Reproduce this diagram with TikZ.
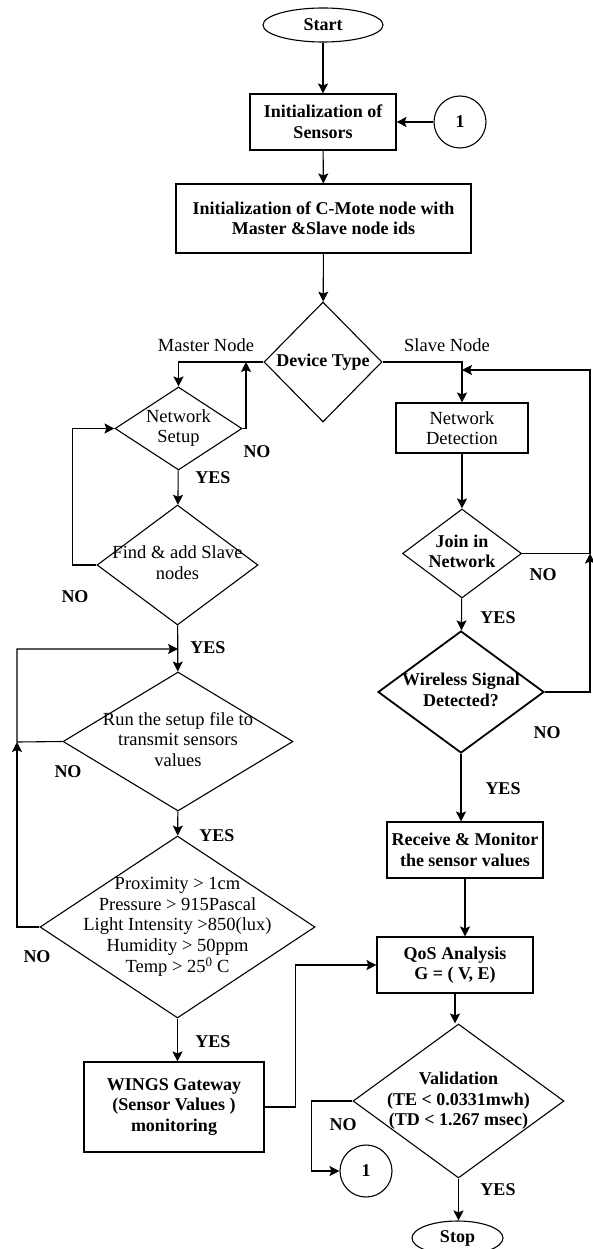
\documentclass[tikz,border=0pt]{standalone}
\usepackage{fontspec}
\setmainfont{Liberation Serif}
\usetikzlibrary{shapes.geometric,arrows.meta}
\newcommand\ctrtext[1]{\vbox to 0pt{\vss\hbox to 0pt{\hss\begin{tabular}{@{}c@{}}#1\end{tabular}\hss}\vss}}
\tikzset{
  bf/.style={font=\fontsize{18}{20.5}\selectfont\bfseries},
  rm/.style={font=\fontsize{18.5}{20.5}\selectfont},
  box/.style={draw, line width=1.1pt, rectangle, inner sep=0pt, align=center},
  dia/.style={draw, line width=1.1pt, diamond, inner sep=0pt},
  term/.style={draw, line width=1.1pt, ellipse, inner sep=0pt, bf},
  conn/.style={draw, line width=1.1pt, circle, inner sep=0pt, minimum size=52pt, bf},
  arr/.style={line width=1.1pt, -{Stealth[length=10pt,width=10pt,inset=2pt]}},
  ln/.style={line width=1.1pt},
  lab/.style={inner sep=0pt, bf},
  rlab/.style={inner sep=0pt, rm}
}
\begin{document}
\begin{tikzpicture}[x=1pt,y=-1pt]
\useasboundingbox (0,0) rectangle (592,1249);
\fill[white] (0,0) rectangle (592,1249);

% nodes
\node[term, minimum width=120pt, minimum height=34pt] (start) at (323,25) {Start};
\node[box, bf, minimum width=146pt, minimum height=56pt] (init) at (323,122) {Initialization of\\Sensors};
\node[conn] (c1) at (460,122) {1};
\node[box, bf, minimum width=295pt, minimum height=69pt] (cmote) at (323.5,218.5) {Initialization of C-Mote node with\\Master \&Slave node ids};
\node[dia, bf, minimum width=118pt, minimum height=120pt] (dev) at (323,362) {\ctrtext{Device Type}};

\node[dia, rm, minimum width=127pt, minimum height=83pt] (ns) at (178.5,428.5) {\ctrtext{Network\\Setup}};
\node[dia, rm, minimum width=161pt, minimum height=120pt] (fas) at (177.5,565) {\ctrtext{Find \& add Slave\\nodes}};
\node[dia, rm, minimum width=230pt, minimum height=139pt] (run) at (178,741.5) {\ctrtext{Run the setup file to\\transmit sensors\\values}};
\node[dia, rm, minimum width=275pt, minimum height=182pt] (prox) at (177.5,927) {\ctrtext{Proximity > 1cm\\Pressure > 915Pascal\\Light Intensity >850(lux)\\Humidity > 50ppm\\Temp > 25\textsuperscript{0} C}};
\node[box, bf, minimum width=180pt, minimum height=90pt] (wings) at (174,1107) {WINGS Gateway\\(Sensor Values )\\monitoring};

\node[box, rm, minimum width=132pt, minimum height=50pt] (nd) at (462,428) {Network\\Detection};
\node[dia, bf, minimum width=119pt, minimum height=89pt] (join) at (462,553.5) {\ctrtext{Join in\\Network}};
\node[dia, bf, line width=1.8pt, minimum width=166pt, minimum height=122pt] (wsd) at (461,692) {\ctrtext{Wireless Signal\\Detected?}};
\node[box, bf, minimum width=156pt, minimum height=56pt] (recv) at (465,850) {Receive \& Monitor\\the sensor values};
\node[box, bf, minimum width=156pt, minimum height=56pt] (qos) at (455,965) {QoS Analysis\\G = ( V, E)};
\node[dia, bf, minimum width=211pt, minimum height=154pt] (val) at (458.5,1101) {\ctrtext{Validation\\(TE < 0.0331mwh)\\(TD < 1.267 msec)}};
\node[conn] (c2) at (366,1171) {1};
\node[term, minimum width=91pt, minimum height=34pt] (stop) at (457.5,1238) {Stop};

% helper coordinates
\coordinate (m1) at (246,362);
\coordinate (k1) at (17,742);
\coordinate (j1) at (178,649);
\coordinate (r1) at (590,370);
\coordinate (r2) at (462,370);
\coordinate (r3) at (590,553.5);

% connectors
\draw[arr] (start) -- (init);
\draw[arr] (c1) -- (init);
\draw[arr] (init) -- (cmote);
\draw[arr] (cmote) -- (dev);
\draw[arr] (dev.west) -| (ns.north);
\draw[arr] (ns.east) -| (m1);
\draw[arr] (ns) -- (fas);
\draw[arr] (fas.west) -- ++(-24,0) |- (ns.west);
\draw[arr] (fas) -- (run);
\draw[arr] (run.west) -- (k1) |- (j1);
\draw[arr] (prox.west) -| (k1);
\draw[arr] (run) -- (prox);
\draw[arr] (prox.south) -- (prox.south |- wings.north);
\draw[arr] (wings.east) -- ++(31,0) |- (qos.west);

\draw[arr] (dev.east) -| (nd.north);
\draw[arr] (nd) -- (join);
\draw[arr] (join) -- (wsd);
\draw[arr] (join.east) -| (r1) -- (r2);
\draw[arr] (wsd.east) -| (r3);
\draw[arr] (wsd.south) -- (wsd.south |- recv.north);
\draw[arr] (recv.south) -- (recv.south |- qos.north);
\draw[arr] (qos.south) -- (qos.south |- val.north);
\draw[arr] (val.west) -- ++(-41,0) |- (c2.west);
\draw[arr] (val.south) -- (val.south |- stop.north);

% labels
\node[rlab] (lmaster) at (206,345) {Master Node};
\node[rlab] (lslave) at (447,345) {Slave Node};
\node[lab] (l1) at (257,452) {NO};
\node[lab] (l2) at (213,478) {YES};
\node[lab] (l3) at (75,597) {NO};
\node[lab] (l4) at (208,648) {YES};
\node[lab] (l5) at (68,772) {NO};
\node[lab] (l6) at (217,836) {YES};
\node[lab] (l7) at (37,957) {NO};
\node[lab] (l8) at (213,1042) {YES};
\node[lab] (l9) at (543,575) {NO};
\node[lab] (l10) at (498,618) {YES};
\node[lab] (l11) at (547,733) {NO};
\node[lab] (l12) at (503,789) {YES};
\node[lab] (l13) at (343,1125) {NO};
\node[lab] (l14) at (498,1190) {YES};
\end{tikzpicture}
\end{document}
